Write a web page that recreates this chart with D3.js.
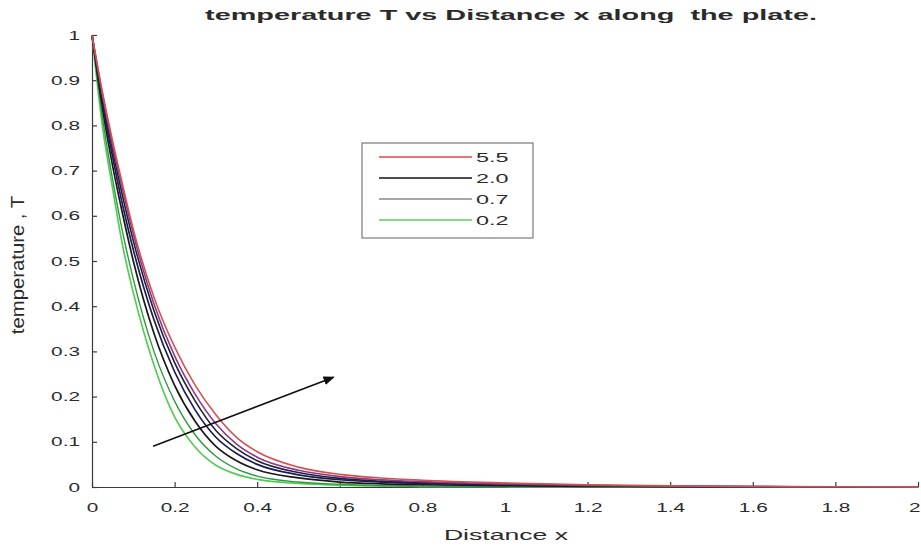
<!DOCTYPE html>
<html>
<head>
<meta charset="utf-8">
<script src="https://cdn.jsdelivr.net/npm/d3@7/dist/d3.min.js"></script>
<style>
  html, body { margin: 0; padding: 0; background: #fff; }
  svg { display: block; }
  text { font-family: "Liberation Sans", Arial, Helvetica, sans-serif; fill: #2b2b2b; }
</style>
</head>
<body>
<svg id="chart" width="921" height="546"></svg>
<script>
// Sample positions along the plate
const xs = [0, 0.025, 0.05, 0.075, 0.1, 0.15, 0.2, 0.25, 0.3, 0.35, 0.4, 0.5, 0.6, 0.7, 0.8, 1.0, 1.2, 1.4, 1.6, 1.8, 2.0];

// Temperature profiles (one per curve)
const tGreenA  = [1, 0.80, 0.66, 0.53, 0.43, 0.27, 0.155, 0.088, 0.048, 0.028, 0.017, 0.008, 0.004, 0.002, 0.001, 0.0005, 0, 0, 0, 0, 0];
const tGreenB  = [1, 0.82, 0.68, 0.56, 0.46, 0.30, 0.19, 0.115, 0.068, 0.040, 0.024, 0.011, 0.006, 0.003, 0.002, 0.001, 0.0005, 0, 0, 0, 0];
const tGray    = [1, 0.84, 0.71, 0.60, 0.50, 0.34, 0.225, 0.145, 0.090, 0.058, 0.038, 0.020, 0.011, 0.007, 0.005, 0.003, 0.0015, 0.0008, 0.0004, 0.0002, 0.0001];
const tNavy    = [1, 0.85, 0.73, 0.62, 0.525, 0.37, 0.255, 0.17, 0.110, 0.074, 0.050, 0.027, 0.016, 0.011, 0.008, 0.005, 0.0025, 0.0012, 0.0006, 0.0003, 0.0002];
const tBlack   = [1, 0.86, 0.745, 0.64, 0.545, 0.39, 0.275, 0.19, 0.125, 0.085, 0.058, 0.032, 0.019, 0.013, 0.010, 0.006, 0.003, 0.0015, 0.0008, 0.0004, 0.0002];
const tPurple  = [1, 0.87, 0.755, 0.655, 0.56, 0.405, 0.29, 0.205, 0.140, 0.095, 0.066, 0.037, 0.023, 0.016, 0.012, 0.007, 0.0035, 0.0018, 0.0009, 0.0005, 0.0003];
const tRed     = [1, 0.875, 0.765, 0.665, 0.57, 0.42, 0.31, 0.225, 0.160, 0.110, 0.078, 0.044, 0.028, 0.020, 0.015, 0.009, 0.005, 0.0025, 0.0012, 0.0006, 0.0003];

// Legend entries
const legendLabels = ["5.5", "2.0", "0.7", "0.2"];
const legendColors = ["#e04848", "#101018", "#505050", "#5fcf5f"];
const legendWidths = [1.4, 1.6, 1.1, 1.4];

// Axis ticks
const xTicks = [0, 0.2, 0.4, 0.6, 0.8, 1, 1.2, 1.4, 1.6, 1.8, 2];
const xTickLabels = ["0", "0.2", "0.4", "0.6", "0.8", "1", "1.2", "1.4", "1.6", "1.8", "2"];
const yTicks = [0, 0.1, 0.2, 0.3, 0.4, 0.5, 0.6, 0.7, 0.8, 0.9, 1];
const yTickLabels = ["0", "0.1", "0.2", "0.3", "0.4", "0.5", "0.6", "0.7", "0.8", "0.9", "1"];

// Trend arrow (start and end in data units)
const arrowFrom = [0.148, 0.09];
const arrowTo = [0.585, 0.243];

const titleText = "temperature T vs Distance x along  the plate.";
const xLabelText = "Distance x";
const yLabelText = "temperature , T";

const series = [
  { values: tGreenA, color: "#55cc55", width: 1.7 },
  { values: tGreenB, color: "#2f9a3f", width: 1.4 },
  { values: tGray,   color: "#1a1a1a", width: 1.7 },
  { values: tNavy,   color: "#1c1c5a", width: 1.7 },
  { values: tBlack,  color: "#222230", width: 1.6 },
  { values: tPurple, color: "#8a3a8e", width: 1.6 },
  { values: tRed,    color: "#d8504e", width: 1.6 }
];

const svg = d3.select("#chart");
const x = d3.scaleLinear().domain([0, 2]).range([92, 918]);
const y = d3.scaleLinear().domain([0, 1]).range([487, 35]);
const sx = 1.6; // horizontal stretch of the lettering

// Axes with inward ticks
const xAxis = svg.append("g")
  .attr("transform", `translate(0,${y(0)})`)
  .call(d3.axisBottom(x).tickValues(xTicks).tickFormat((d, i) => xTickLabels[i]).tickSize(-5).tickSizeOuter(0));
const yAxis = svg.append("g")
  .attr("transform", `translate(${x(0)},0)`)
  .call(d3.axisLeft(y).tickValues(yTicks).tickFormat((d, i) => yTickLabels[i]).tickSize(-5).tickSizeOuter(0));

[xAxis, yAxis].forEach(g => {
  g.select(".domain").attr("stroke", "#3a3a3a").attr("stroke-width", 1.2);
  g.selectAll(".tick line").attr("stroke", "#3a3a3a").attr("stroke-width", 1.2);
  g.selectAll(".tick text").attr("font-size", 13).attr("fill", "#333")
    .style("font-family", "'Liberation Sans', Arial, sans-serif");
});
xAxis.selectAll(".tick text").attr("y", 16).attr("dy", "0.71em").attr("transform", `scale(${sx},1)`);
// the last label sits against the right edge of the figure
xAxis.selectAll(".tick:last-of-type text").attr("text-anchor", "end").attr("x", 2 / sx);
yAxis.selectAll(".tick text").attr("x", -7.5).attr("transform", `scale(${sx},1)`);

// Curves, drawn over the axis lines
const line = d3.line()
  .x((d, i) => x(xs[i]))
  .y(d => y(d))
  .curve(d3.curveMonotoneX);

svg.append("g").selectAll("path")
  .data(series)
  .join("path")
  .attr("d", s => line(s.values))
  .attr("fill", "none")
  .attr("stroke", s => s.color)
  .attr("stroke-width", s => s.width);

// Arrow
const defs = svg.append("defs");
defs.append("marker")
  .attr("id", "head")
  .attr("viewBox", "0 0 10 10")
  .attr("refX", 9).attr("refY", 5)
  .attr("markerWidth", 7).attr("markerHeight", 7)
  .attr("markerUnits", "strokeWidth")
  .attr("orient", "auto")
  .append("path").attr("d", "M0,1 L10,5 L0,9 Z").attr("fill", "#111");
svg.append("line")
  .attr("x1", x(arrowFrom[0])).attr("y1", y(arrowFrom[1]))
  .attr("x2", x(arrowTo[0])).attr("y2", y(arrowTo[1]))
  .attr("stroke", "#111").attr("stroke-width", 1.6)
  .attr("marker-end", "url(#head)");

// Legend
const lg = svg.append("g").attr("transform", "translate(362,143)");
lg.append("rect").attr("width", 171).attr("height", 95)
  .attr("fill", "#fff").attr("stroke", "#7a7a7a").attr("stroke-width", 1.2);
const rows = lg.selectAll("g.row").data(legendLabels).join("g")
  .attr("class", "row")
  .attr("transform", (d, i) => `translate(0,${14 + i * 21})`);
rows.append("line").attr("x1", 17).attr("x2", 110)
  .attr("stroke", (d, i) => legendColors[i]).attr("stroke-width", (d, i) => legendWidths[i]);
rows.append("text").attr("x", 114 / 1.8).attr("dy", "0.35em")
  .attr("font-size", 13).attr("transform", `scale(1.8,1)`)
  .text(d => d);

// Title
svg.append("text")
  .attr("transform", `translate(511,20) scale(2.06,1)`)
  .attr("text-anchor", "middle").attr("font-size", 14).attr("font-weight", "bold")
  .attr("fill", "#111")
  .attr("xml:space", "preserve")
  .style("white-space", "pre")
  .text(titleText);

// Axis titles
svg.append("text")
  .attr("transform", `translate(506,540) scale(1.9,1)`)
  .attr("text-anchor", "middle").attr("font-size", 14)
  .text(xLabelText);
svg.append("text")
  .attr("transform", `translate(24,265) scale(1.3,1.45) rotate(-90)`)
  .attr("text-anchor", "middle").attr("font-size", 14)
  .text(yLabelText);
</script>
</body>
</html>
